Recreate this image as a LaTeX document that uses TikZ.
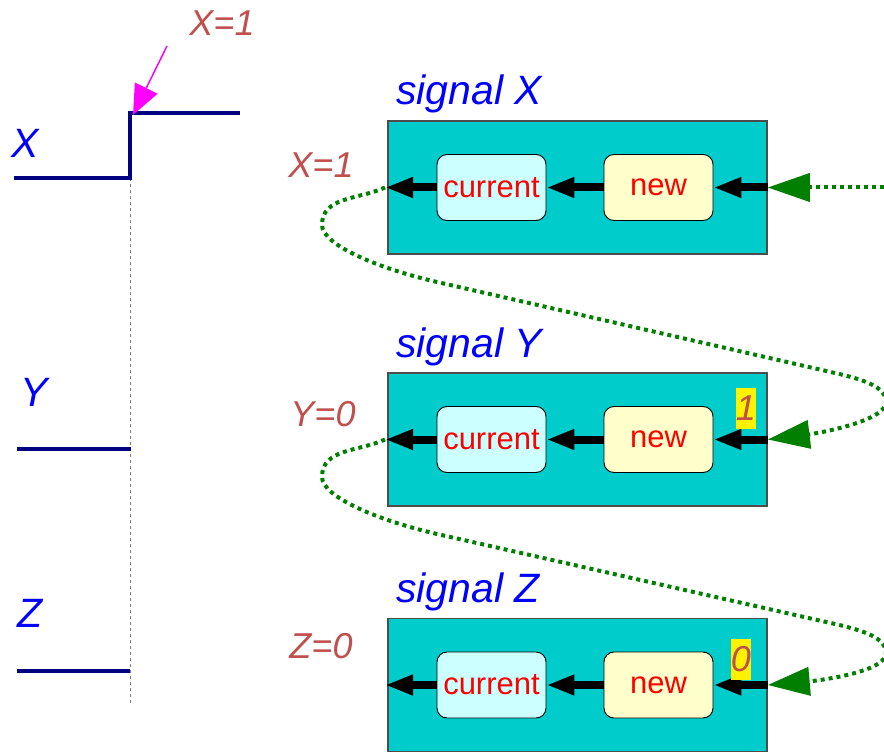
\documentclass[tikz,border=0pt]{standalone}
\usepackage{fontspec}
\setmainfont{Liberation Sans}
\usetikzlibrary{arrows.meta}
\definecolor{navyw}{HTML}{000080}
\definecolor{brickred}{HTML}{C0504D}
\definecolor{tealbox}{HTML}{00CCCC}
\definecolor{curfill}{HTML}{CCFFFF}
\definecolor{newfill}{HTML}{FFFFCC}
\definecolor{dkgreen}{HTML}{007F00}
\definecolor{pureblue}{HTML}{0000FF}
\definecolor{purered}{HTML}{FF0000}
\definecolor{puremag}{HTML}{FF00FF}
\tikzset{
  wave/.style={navyw, line width=3.5pt, line join=miter},
  guide/.style={gray, line width=0.8pt, dash pattern=on 3pt off 3pt},
  wlabel/.style={text=pureblue, font=\fontsize{41}{41}\selectfont\itshape, inner sep=0pt},
  slabel/.style={text=pureblue, font=\fontsize{41}{41}\selectfont\itshape, inner sep=0pt, anchor=base west},
  vlabel/.style={text=brickred, font=\fontsize{36}{36}\selectfont\itshape, inner sep=0pt},
  sigbox/.style={draw=gray!60!black, line width=1.5pt, fill=tealbox, minimum width=379pt, minimum height=133pt, inner sep=0pt},
  curbox/.style={draw=black, line width=0.9pt, fill=curfill, rounded corners=10pt, minimum width=109pt, minimum height=66pt, inner sep=0pt, text=purered, font=\fontsize{31}{31}\selectfont},
  newbox/.style={draw=black, line width=0.9pt, fill=newfill, rounded corners=10pt, minimum width=109pt, minimum height=66pt, inner sep=0pt, text=purered, font=\fontsize{31}{31}\selectfont},
  flow/.style={black, line width=8pt, -{Triangle[length=28pt,width=19pt]}},
  feed/.style={dkgreen, line width=4pt, dash pattern=on 4pt off 4pt, -{Triangle[length=42pt,width=28pt]}},
  hilite/.style={fill=yellow, inner sep=0pt, minimum width=20pt, minimum height=41pt, text=brickred, font=\fontsize{36}{36}\selectfont\itshape},
  pointer/.style={puremag, line width=1.5pt, -{Triangle[length=30pt,width=25pt]}}
}
\begin{document}
\begin{tikzpicture}[x=1pt,y=1pt]
\useasboundingbox (0,0) rectangle (884,-754);
% guide line
\coordinate (gtop) at (130,-178);
\coordinate (gbot) at (130,-705);
\draw[guide] (gtop) -- (gbot);
% waveforms
\coordinate (xs) at (14,-178);
\coordinate (xm) at (130,-178);
\coordinate (xt) at (130,-113);
\coordinate (xe) at (240,-113);
\draw[wave] (xs) -- (xm) -- (xt) -- (xe);
\coordinate (ys) at (17,-449);
\coordinate (ye) at (131,-449);
\draw[wave] (ys) -- (ye);
\coordinate (zs) at (17,-671);
\coordinate (ze) at (130,-671);
\draw[wave] (zs) -- (ze);
\node[wlabel] (lx) at (25,-143) {X};
\node[wlabel] (ly) at (34,-392) {Y};
\node[wlabel] (lz) at (30,-613) {Z};
% pointer
\node[vlabel] (x1top) at (222,-23) {X=1};
\coordinate (pstart) at (167,-46);
\coordinate (ptip) at (133,-115);
\draw[pointer] (pstart) -- (ptip);
% signal boxes
\foreach \nm/\yy/\bl in {X/187.5/105, Y/439.5/357, Z/685/602}{
  \node[sigbox] (box\nm) at (577.5,-\yy) {};
  \node[slabel] (sig\nm) at (396,-\bl) {signal \nm};
  \node[curbox] (cur\nm) at (491.5,-\yy) {current};
  \node[newbox] (new\nm) at (658.5,-\yy) {new};
  \coordinate (out\nm) at (385,-\yy);
  \draw[flow] (box\nm.east) -- (new\nm.east);
  \draw[flow] (new\nm.west) -- (cur\nm.east);
  \draw[flow] (cur\nm.west) -- (out\nm);
}
\node[vlabel] (vx) at (321,-165) {X=1};
\node[vlabel] (vy) at (323,-414) {Y=0};
\node[vlabel] (vz) at (321,-646) {Z=0};
\node[hilite] (h1) at (746,-408.5) {1};
\node[hilite] (h0) at (741,-659) {0};
% feedback
\coordinate (gin) at (884,-187.5);
\draw[feed] (gin) -- (boxX.east);
\coordinate (l1) at (322,-225);
\coordinate (p1) at (437,-282);
\coordinate (q1) at (835,-373);
\coordinate (r1) at (886,-402);
\draw[feed] (outX) to[out=205,in=90] (l1)
  to[out=-90,in=167,out distance=20pt,in distance=60pt] (p1) -- (q1)
  to[out=-13,in=90,out distance=30pt,in distance=15pt] (r1)
  to[out=-90,in=7,out distance=20pt,in distance=45pt] (boxY.east);
\coordinate (l2) at (322,-477);
\coordinate (p2) at (437,-534);
\coordinate (q2) at (835,-624);
\coordinate (r2) at (886,-653);
\draw[feed] (outY) to[out=205,in=90] (l2)
  to[out=-90,in=167,out distance=20pt,in distance=60pt] (p2) -- (q2)
  to[out=-13,in=90,out distance=30pt,in distance=15pt] (r2)
  to[out=-90,in=5,out distance=20pt,in distance=45pt] (boxZ.east);
\end{tikzpicture}
\end{document}
